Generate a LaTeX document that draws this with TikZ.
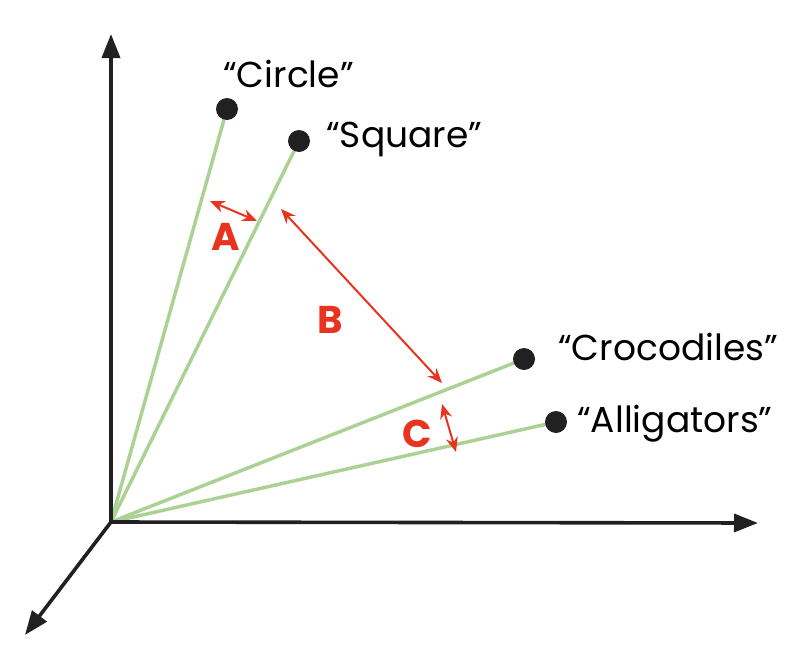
\documentclass[tikz,border=0pt]{standalone}
\usepackage{fontspec}
\setmainfont{Poppins}
\usetikzlibrary{arrows.meta}
\definecolor{leaf green}{rgb}{0.67, 0.82, 0.58}
\definecolor{alert red}{rgb}{0.91, 0.20, 0.12}
\definecolor{ink}{rgb}{0.13, 0.13, 0.13}

\begin{document}
\begin{tikzpicture}[x=0.75pt, y=-0.75pt,
		axis/.style={ink, line width=2.7pt, line join=miter},
		vec/.style={leaf green, line width=2.6pt},
		dot/.style={circle, fill=ink, inner sep=0pt, minimum size=16.5pt},
		word/.style={anchor=base west, inner sep=0pt, font=\fontsize{27}{31}\selectfont},
		gap/.style={alert red, line width=1.5pt, {Stealth[length=11pt, width=9pt]}-{Stealth[length=11pt, width=9pt]}},
		tag/.style={alert red, inner sep=0pt, font=\fontsize{29}{32}\selectfont\bfseries}]
			\useasboundingbox (0,0) rectangle (811,664);
			% origin and axis ends
			\coordinate (O) at (111,522);
			\coordinate (ytip) at (111,34);
			\coordinate (xtip) at (758,523);
			\coordinate (ztip) at (25,635);
			% word vectors
			\coordinate (circle) at (227,109);
			\coordinate (square) at (299,141);
			\coordinate (croc) at (524,359);
			\coordinate (alli) at (556,422);
			\foreach \w in {circle, square, croc, alli}
				\draw[vec] (O) -- (\w);
			% axes
			\draw[axis, {Triangle[length=18pt, width=13.5pt]}-{Triangle[length=18pt, width=13.5pt]}]
				(ytip) -- (O) -- (xtip);
			\draw[axis, -{Triangle[length=18pt, width=13.5pt]}] (O) -- (ztip);
			% points at the vector ends
			\foreach \w in {circle, square, croc, alli}
				\node[dot] (\w dot) at (\w) {};
			% labels
			\node[word] (circlelabel) at (223,87) {“Circle”};
			\node[word] (squarelabel) at (326,147) {“Square”};
			\node[word] (croclabel) at (558,360) {“Crocodiles”};
			\node[word] (allilabel) at (577,432) {“Alligators”};
			% distances
			\coordinate (a1) at (210,201);
			\coordinate (a2) at (257,221);
			\coordinate (b1) at (281,209);
			\coordinate (b2) at (442,383);
			\coordinate (c1) at (442,404);
			\coordinate (c2) at (456,452);
			\draw[gap] (a1) -- (a2);
			\draw[gap] (b1) -- (b2);
			\draw[gap] (c1) -- (c2);
			\node[tag] (A) at (226,237) {A};
			\node[tag] (B) at (330,320) {B};
			\node[tag] (C) at (417,434) {C};
\end{tikzpicture}
\end{document}
